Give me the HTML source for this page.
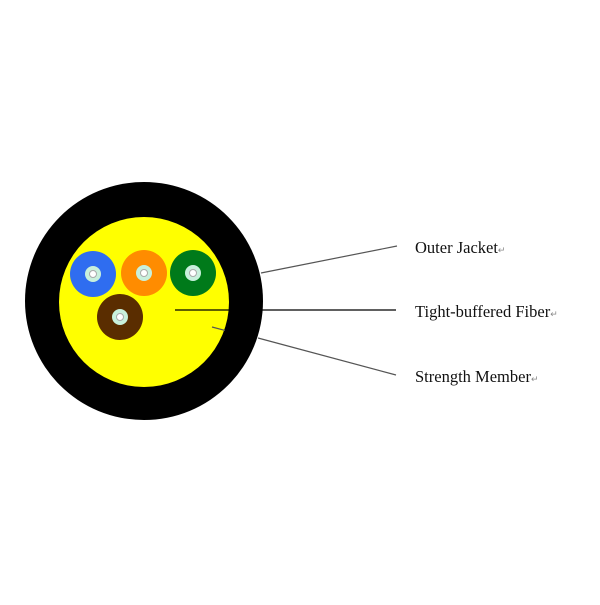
<!DOCTYPE html>
<html><head><style>body{margin:0;background:#fff}</style></head><body>
<svg width="600" height="600" xmlns="http://www.w3.org/2000/svg">
<rect width="600" height="600" fill="#fff"/>
<circle cx="144" cy="301" r="119" fill="#000"/>
<circle cx="144" cy="302" r="85" fill="#ffff00"/>
<g>
<circle cx="93" cy="274" r="23" fill="#2f6df0"/>
<circle cx="144" cy="273" r="23" fill="#ff8c00"/>
<circle cx="193" cy="273" r="23" fill="#007a1a"/>
<circle cx="120" cy="317" r="23" fill="#5a2d00"/>
</g>
<g fill="#c8f0dc"><circle cx="93" cy="274" r="8"/><circle cx="144" cy="273" r="8"/><circle cx="193" cy="273" r="8"/><circle cx="120" cy="317" r="8"/></g>
<g fill="#fff" stroke="#aaa" stroke-width="1"><circle cx="93" cy="274" r="3.5"/><circle cx="144" cy="273" r="3.5"/><circle cx="193" cy="273" r="3.5"/><circle cx="120" cy="317" r="3.5"/></g>
<line x1="261" y1="273" x2="397" y2="246" stroke="#555" stroke-width="1.2"/>
<line x1="175" y1="310" x2="396" y2="310" stroke="#000" stroke-width="1.2"/>
<line x1="212" y1="327" x2="225" y2="330.4" stroke="#555" stroke-width="1.2"/>
<line x1="258" y1="338" x2="396" y2="375" stroke="#555" stroke-width="1.2"/>
<g font-family="Liberation Serif, serif" font-size="16.5" fill="#111">
<text x="415" y="253">Outer Jacket<tspan font-size="9" fill="#888">↵</tspan></text>
<text x="415" y="317">Tight-buffered Fiber<tspan font-size="9" fill="#888">↵</tspan></text>
<text x="415" y="382">Strength Member<tspan font-size="9" fill="#888">↵</tspan></text>
</g>
</svg>
</body></html>
